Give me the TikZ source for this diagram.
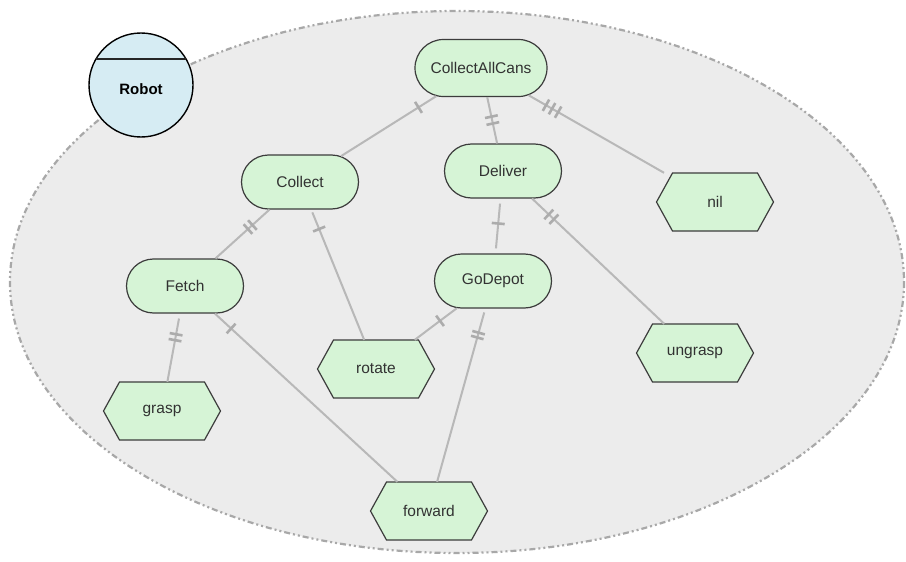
\documentclass[tikz,border=0pt]{standalone}
\usepackage{fontspec}
\setmainfont{Liberation Sans}
\usetikzlibrary{shapes.misc,decorations.markings}

\definecolor{areafill}{RGB}{236,236,236}
\definecolor{arealine}{RGB}{168,168,168}
\definecolor{taskfill}{RGB}{214,244,214}
\definecolor{taskline}{RGB}{60,60,60}
\definecolor{tasktext}{RGB}{50,50,50}
\definecolor{linkcol}{RGB}{184,184,184}
\definecolor{tickcol}{RGB}{172,172,172}
\definecolor{agentfill}{RGB}{214,236,243}

\tikzset{
  taskbox/.style={rounded rectangle, draw=taskline, fill=taskfill, line width=1.2pt,
    minimum width=117pt, minimum height=54pt, inner sep=0pt, text=tasktext,
    font=\fontsize{15.5}{18}\selectfont},
  actbox/.style={rectangle, minimum width=117pt, minimum height=58pt, inner sep=0pt,
    text=tasktext, font=\fontsize{15.5}{18}\selectfont},
  hexline/.style={draw=taskline, fill=taskfill, line width=1.2pt, line join=miter},
  link/.style={draw=linkcol, line width=2pt},
  tickline/.style={draw=tickcol, line width=2.6pt, shorten <=0pt, shorten >=0pt},
  tk/.style={postaction={decorate, decoration={markings,
    mark=at position #1 with {\draw[tickline] (0pt,-6.5pt) -- (0pt,6.5pt);}}}},
}

% hexagonal action outline centred on a point
\newcommand\hexat[1]{\path[hexline] (#1) ++(-58.5,0) -- ++(16,-29) -- ++(85,0)
  -- ++(16,29) -- ++(-16,29) -- ++(-85,0) -- cycle;}

\begin{document}
\begin{tikzpicture}[x=1pt,y=-1pt]
\useasboundingbox (0,0) rectangle (906,562);
\fill[white] (0,0) rectangle (906,562);

% agent boundary
\path[fill=areafill, draw=arealine, line width=2.2pt,
  dash pattern=on 6pt off 3pt on 2pt off 3pt on 2pt off 3pt]
  (457,282) ellipse [x radius=447, y radius=271];

% agent badge
\node[circle, draw=black, fill=agentfill, line width=1.4pt, minimum size=104pt,
  inner sep=0pt] (robot) at (141,85) {};
\draw[black!85, line width=1.4pt] (robot.center) ++(-45,-26) -- ++(90,0);
\node[font=\fontsize{15}{18}\selectfont\bfseries] (robotlabel) at (141,89) {Robot};

% goals
\node[taskbox, minimum width=132pt, minimum height=57pt] (cac) at (481,68) {CollectAllCans};
\node[taskbox] (deliver) at (503,171) {Deliver};
\node[taskbox] (collect) at (300,182) {Collect};
\node[taskbox] (fetch) at (185,286) {Fetch};
\node[taskbox] (godepot) at (493,281) {GoDepot};

% actions
\hexat{715,202} \node[actbox] (nil) at (715,202) {nil};
\hexat{695,353} \node[actbox] (ungrasp) at (695,353) {ungrasp};
\hexat{376,369} \node[actbox] (rotate) at (376,369) {rotate};
\hexat{162,411} \node[actbox] (grasp) at (162,411) {grasp};
\hexat{429,511} \node[actbox] (forward) at (429,511) {forward};

% decomposition links
\path[link, tk=21pt] (cac) -- (collect);
\path[link, tk=20pt, tk=27pt] (cac) -- (deliver);
\path[link, tk=20pt, tk=27pt, tk=34pt] (cac) -- (nil);
\path[link, tk=23pt, tk=29pt] (collect) -- (fetch);
\path[link, shorten <=3pt, tk=21pt] (collect) -- (rotate);
\path[link, shorten <=5pt, shorten >=5pt, tk=25pt] (deliver) -- (godepot);
\path[link, tk=23pt, tk=30pt] (deliver) -- (ungrasp);
\path[link, shorten <=5pt, tk=21pt, tk=27pt] (fetch) -- (grasp);
\path[link, tk=22pt] (fetch) -- (forward);
\path[link, tk=21pt] (godepot) -- (rotate);
\path[link, shorten <=4pt, tk=25pt, tk=30pt] (godepot) -- (forward);
\end{tikzpicture}
\end{document}
